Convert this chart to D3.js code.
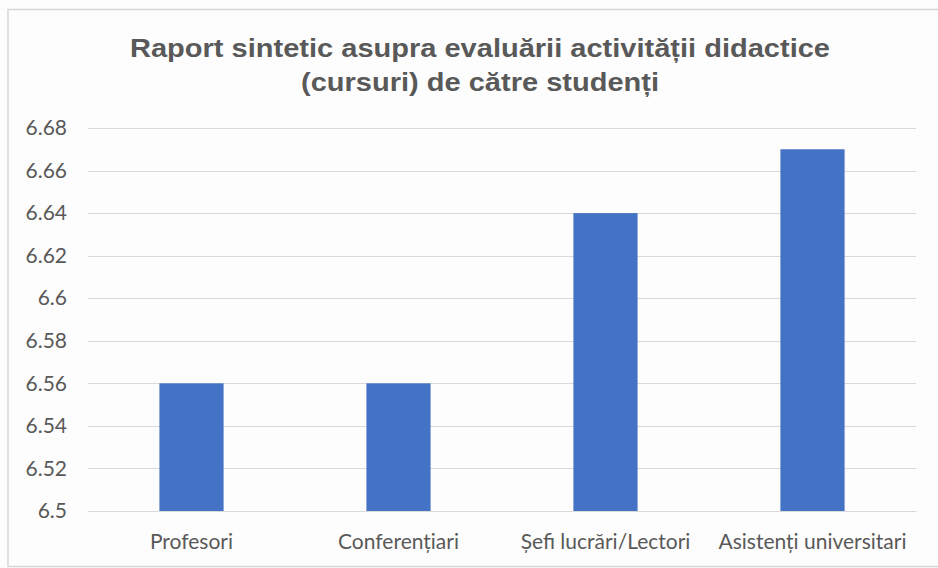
<!DOCTYPE html>
<html>
<head>
    <meta charset="utf-8">
    <title>Raport sintetic</title>
    <script src="https://cdn.jsdelivr.net/npm/d3@7"></script>
    <style>
        body { margin: 0; background: #fdfdfd; }
    </style>
</head>
<body>
    <div id="chart"></div>
    <script>
        // data
        var categories = ["Profesori", "Conferențiari", "Șefi lucrări/Lectori", "Asistenți universitari"];
        var values = [6.56, 6.56, 6.64, 6.67];
        var yTicks = [6.5, 6.52, 6.54, 6.56, 6.58, 6.6, 6.62, 6.64, 6.66, 6.68];
        var titleLines = ["Raport sintetic asupra evaluării activității didactice", "(cursuri) de către studenți"];

        var width = 938,
            height = 568;
        var margin = {top: 128, right: 22, bottom: 57, left: 88};

        var svg = d3.select("#chart").append("svg")
            .attr("width", width)
            .attr("height", height);

        // frame
        svg.append("rect")
            .attr("x", 8).attr("y", 9.5)
            .attr("width", width + 10).attr("height", 557)
            .attr("fill", "#fdfdfd")
            .attr("stroke", "#d6d6d6")
            .attr("stroke-width", 1.5);

        var x = d3.scaleBand()
            .domain(categories)
            .range([margin.left, width - margin.right])
            .paddingInner(0.69)
            .paddingOuter(0.345);

        var y = d3.scaleLinear()
            .domain([6.5, 6.68])
            .range([height - margin.bottom, margin.top]);

        // gridlines
        svg.append("g")
            .selectAll("line")
            .data(yTicks)
            .enter().append("line")
            .attr("x1", margin.left)
            .attr("x2", width - margin.right)
            .attr("y1", function(d){ return Math.round(y(d)) + 0.5; })
            .attr("y2", function(d){ return Math.round(y(d)) + 0.5; })
            .attr("stroke", "#d9d9d9")
            .attr("stroke-width", 1.2);

        // bars
        svg.append("g")
            .selectAll("rect")
            .data(values)
            .enter().append("rect")
            .attr("x", function(d, i){ return x(categories[i]); })
            .attr("width", x.bandwidth())
            .attr("y", function(d){ return y(d); })
            .attr("height", function(d){ return y(6.5) - y(d); })
            .attr("fill", "#4472c4");

        // y axis (labels only)
        var yAxis = svg.append("g")
            .attr("transform", "translate(" + margin.left + ",0)")
            .call(d3.axisLeft(y).tickValues(yTicks).tickSize(0).tickPadding(21)
                .tickFormat(function(d){ return String(+d.toFixed(2)); }));
        yAxis.select(".domain").remove();
        yAxis.selectAll("text")
            .attr("fill", "#595959")
            .style("font-family", "Lato, 'Open Sans', sans-serif")
            .style("font-size", "21px");

        // x axis
        var xAxis = svg.append("g")
            .attr("transform", "translate(0," + (height - margin.bottom) + ")")
            .call(d3.axisBottom(x).tickSize(0).tickPadding(23));
        xAxis.select(".domain").attr("stroke", "#d9d9d9").attr("stroke-width", 1.2);
        xAxis.selectAll("text")
            .attr("fill", "#595959")
            .style("font-family", "Lato, 'Open Sans', sans-serif")
            .style("font-size", "21px");

        // title, stretched a bit wider like the original
        var title = svg.append("g")
            .selectAll("text")
            .data(titleLines)
            .enter().append("text")
            .attr("x", 480)
            .attr("y", function(d, i){ return 57 + i * 34; })
            .attr("text-anchor", "middle")
            .attr("fill", "#595959")
            .style("font-family", "'Liberation Sans', Arial, sans-serif")
            .style("font-weight", "bold")
            .style("font-size", "26px")
            .text(function(d){ return d; });

        var stretch = 700 / title.node().getComputedTextLength();
        title.each(function(){
            var w = this.getComputedTextLength();
            d3.select(this)
                .attr("textLength", w * stretch)
                .attr("lengthAdjust", "spacingAndGlyphs");
        });
    </script>
</body>
</html>
